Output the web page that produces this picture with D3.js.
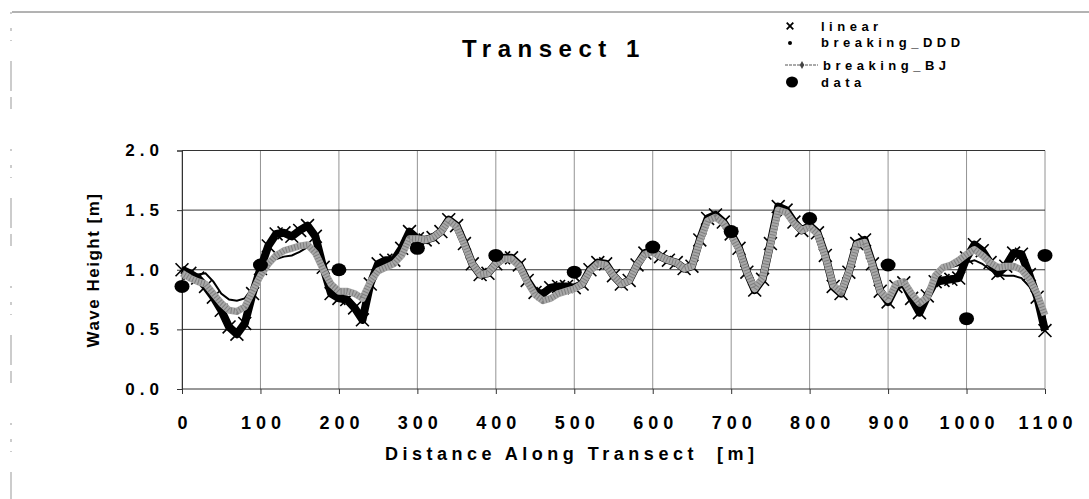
<!doctype html>
<html>
<head>
<meta charset="utf-8">
<title>Transect 1</title>
<script src="https://cdn.jsdelivr.net/npm/d3@7"></script>
<style>
  html, body { margin: 0; padding: 0; background: #fff; }
  svg { display: block; }
  text { font-family: Arial, "Liberation Sans", sans-serif; font-weight: bold; fill: #000; }
</style>
</head>
<body>
<div id="chart"></div>
<script>
// distance along transect [m]
var distance = [
  0, 10, 20, 30, 40, 50, 60, 70, 80, 90, 100,
  110, 120, 130, 140, 150, 160, 170, 180, 190, 200,
  210, 220, 230, 240, 250, 260, 270, 280, 290, 300,
  310, 320, 330, 340, 350, 360, 370, 380, 390, 400,
  410, 420, 430, 440, 450, 460, 470, 480, 490, 500,
  510, 520, 530, 540, 550, 560, 570, 580, 590, 600,
  610, 620, 630, 640, 650, 660, 670, 680, 690, 700,
  710, 720, 730, 740, 750, 760, 770, 780, 790, 800,
  810, 820, 830, 840, 850, 860, 870, 880, 890, 900,
  910, 920, 930, 940, 950, 960, 970, 980, 990, 1000,
  1010, 1020, 1030, 1040, 1050, 1060, 1070, 1080, 1090, 1100
];

var linear = [
  1.00, 0.97, 0.93, 0.86, 0.77, 0.66, 0.52, 0.46, 0.55, 0.80, 1.01,
  1.20, 1.30, 1.31, 1.28, 1.33, 1.37, 1.28, 1.02, 0.80, 0.76,
  0.75, 0.68, 0.58, 0.88, 1.05, 1.08, 1.08, 1.18, 1.32, 1.26,
  1.25, 1.27, 1.32, 1.42, 1.37, 1.22, 1.05, 0.96, 0.97, 1.05,
  1.10, 1.10, 1.04, 0.91, 0.81, 0.80, 0.85, 0.86, 0.86, 0.85,
  0.88, 1.00, 1.06, 1.05, 0.95, 0.88, 0.91, 1.04, 1.14, 1.16,
  1.11, 1.08, 1.06, 1.01, 1.03, 1.25, 1.43, 1.46, 1.40, 1.30,
  1.18, 0.98, 0.83, 0.92, 1.22, 1.53, 1.50, 1.40, 1.33, 1.37,
  1.31, 1.12, 0.86, 0.80, 0.98, 1.22, 1.25, 1.05, 0.82, 0.73,
  0.86, 0.89, 0.76, 0.64, 0.78, 0.90, 0.91, 0.92, 0.93, 1.10,
  1.21, 1.16, 1.06, 0.97, 1.03, 1.14, 1.13, 0.96, 0.77, 0.49
];

var breakingDDD = [
  1.02, 0.96, 0.96, 0.97, 0.90, 0.80, 0.75, 0.74, 0.76, 0.85, 0.96,
  1.04, 1.09, 1.11, 1.12, 1.15, 1.19, 1.12, 0.98, 0.84, 0.80,
  0.80, 0.79, 0.74, 0.90, 1.00, 1.04, 1.06, 1.13, 1.25, 1.25,
  1.25, 1.27, 1.32, 1.41, 1.36, 1.21, 1.05, 0.96, 0.97, 1.05,
  1.09, 1.09, 1.03, 0.90, 0.79, 0.74, 0.76, 0.80, 0.82, 0.84,
  0.88, 0.99, 1.05, 1.04, 0.95, 0.88, 0.91, 1.04, 1.13, 1.15,
  1.11, 1.08, 1.06, 1.01, 1.03, 1.24, 1.41, 1.44, 1.39, 1.29,
  1.17, 0.98, 0.84, 0.93, 1.21, 1.50, 1.48, 1.39, 1.33, 1.36,
  1.30, 1.11, 0.87, 0.81, 0.98, 1.21, 1.23, 1.04, 0.82, 0.75,
  0.88, 0.90, 0.80, 0.72, 0.78, 0.95, 1.00, 1.02, 1.04, 1.06,
  1.08, 1.05, 1.00, 0.96, 0.95, 0.95, 0.93, 0.86, 0.74, 0.60
];

var breakingBJ = [
  0.97, 0.93, 0.90, 0.88, 0.80, 0.72, 0.66, 0.65, 0.69, 0.82, 0.95,
  1.05, 1.12, 1.16, 1.18, 1.20, 1.21, 1.14, 1.00, 0.88, 0.82,
  0.82, 0.80, 0.76, 0.90, 0.99, 1.02, 1.05, 1.12, 1.26, 1.26,
  1.25, 1.27, 1.32, 1.41, 1.36, 1.21, 1.05, 0.96, 0.97, 1.05,
  1.09, 1.09, 1.03, 0.90, 0.79, 0.74, 0.76, 0.80, 0.82, 0.84,
  0.88, 0.99, 1.05, 1.04, 0.95, 0.88, 0.91, 1.04, 1.13, 1.15,
  1.11, 1.08, 1.06, 1.01, 1.03, 1.24, 1.41, 1.44, 1.39, 1.29,
  1.17, 0.98, 0.84, 0.93, 1.21, 1.50, 1.48, 1.39, 1.33, 1.36,
  1.30, 1.11, 0.87, 0.81, 0.98, 1.21, 1.23, 1.04, 0.82, 0.75,
  0.88, 0.90, 0.80, 0.72, 0.77, 0.95, 1.02, 1.04, 1.08, 1.13,
  1.17, 1.12, 1.06, 1.02, 1.03, 1.03, 1.00, 0.92, 0.80, 0.62
];

// measured points
var dataDistance = [0, 100, 200, 300, 400, 500, 600, 700, 800, 900, 1000, 1100];
var dataHeight = [0.86, 1.04, 1.00, 1.18, 1.12, 0.98, 1.19, 1.32, 1.43, 1.04, 0.59, 1.12];

var xTicks = [0, 100, 200, 300, 400, 500, 600, 700, 800, 900, 1000, 1100];
var yTicks = [0.0, 0.5, 1.0, 1.5, 2.0];

var W = 1089, H = 499;
var svg = d3.select("#chart").append("svg")
    .attr("width", W)
    .attr("height", H);

// scanned frame edges
svg.append("line")
    .attr("x1", 12).attr("y1", 12).attr("x2", W).attr("y2", 12)
    .attr("stroke", "#666").attr("stroke-width", 1);
svg.append("line")
    .attr("x1", 11).attr("y1", 12).attr("x2", 11).attr("y2", H)
    .attr("stroke", "#999").attr("stroke-width", 1)
    .attr("stroke-dasharray", "2,14,3,9,1,20,30,6,12,40");

var x = d3.scaleLinear().domain([0, 1100]).range([182, 1045]);
var y = d3.scaleLinear().domain([0, 2]).range([389, 150.5]);

// grid
var grid = svg.append("g");
grid.selectAll(".vgrid").data(xTicks).enter().append("line")
    .attr("class", "vgrid")
    .attr("x1", d => x(d)).attr("x2", d => x(d))
    .attr("y1", y(2)).attr("y2", y(0))
    .attr("stroke", "#777").attr("stroke-width", 0.8);
grid.selectAll(".hgrid").data(yTicks).enter().append("line")
    .attr("class", "hgrid")
    .attr("x1", x(0)).attr("x2", x(1100))
    .attr("y1", d => y(d)).attr("y2", d => y(d))
    .attr("stroke", "#333").attr("stroke-width", 1);

// axes
var xAxis = svg.append("g")
    .attr("transform", "translate(0," + y(0) + ")")
    .call(d3.axisBottom(x).tickValues(xTicks).tickSize(5).tickPadding(22).tickFormat(d3.format("d")));
xAxis.select(".domain").remove();
xAxis.selectAll("line").attr("stroke", "#333");
xAxis.selectAll("text")
    .style("font-size", "18px")
    .style("letter-spacing", "5px")
    .attr("dx", "2.5px");

var yAxis = svg.append("g")
    .attr("transform", "translate(" + x(0) + ",0)")
    .call(d3.axisLeft(y).tickValues(yTicks).tickSize(5).tickPadding(18).tickFormat(d3.format(".1f")));
yAxis.select(".domain").attr("stroke", "#333");
yAxis.selectAll("line").attr("stroke", "#333");
yAxis.selectAll("text")
    .style("font-size", "17px")
    .style("letter-spacing", "5px")
    .attr("dx", "5px");

// series
var line = d3.line()
    .x((d, i) => x(distance[i]))
    .y(d => y(d));

// linear: dense x markers make a hairy black band
svg.append("path")
    .datum(linear)
    .attr("d", line)
    .attr("fill", "none")
    .attr("stroke", "#000")
    .attr("stroke-width", 8)
    .attr("stroke-linejoin", "round");
var cross = d3.symbol().type(d3.symbolX).size(110);
svg.append("g").selectAll("path").data(linear).enter().append("path")
    .attr("d", cross)
    .attr("transform", (d, i) => "translate(" + x(distance[i]) + "," + y(d) + ")")
    .attr("fill", "none")
    .attr("stroke", "#000")
    .attr("stroke-width", 1.6);

// breaking_DDD
svg.append("path")
    .datum(breakingDDD)
    .attr("d", line)
    .attr("fill", "none")
    .attr("stroke", "#000")
    .attr("stroke-width", 2);

// breaking_BJ: thick grey band of markers
svg.append("path")
    .datum(breakingBJ)
    .attr("d", line)
    .attr("fill", "none")
    .attr("stroke", "#a8a8a8")
    .attr("stroke-width", 7)
    .attr("stroke-linejoin", "round");
svg.append("path")
    .datum(breakingBJ)
    .attr("d", line)
    .attr("fill", "none")
    .attr("stroke", "#555")
    .attr("stroke-width", 6)
    .attr("stroke-dasharray", "1,2")
    .attr("opacity", 0.5);

// data
svg.append("g").selectAll("ellipse").data(dataHeight).enter().append("ellipse")
    .attr("cx", (d, i) => x(dataDistance[i]))
    .attr("cy", d => y(d))
    .attr("rx", 7.5)
    .attr("ry", 6.5)
    .attr("fill", "#000");

// titles
svg.append("text")
    .attr("x", 462).attr("y", 57)
    .style("font-size", "24px")
    .style("letter-spacing", "6.5px")
    .text("Transect 1");

svg.append("text")
    .attr("x", 385).attr("y", 460)
    .style("font-size", "18px")
    .style("letter-spacing", "4.5px")
    .style("white-space", "pre")
    .text("Distance Along Transect  [m]");

svg.append("text")
    .attr("transform", "translate(93,270) rotate(-90)")
    .attr("text-anchor", "middle")
    .attr("dominant-baseline", "central")
    .style("font-size", "17px")
    .style("letter-spacing", "1.5px")
    .text("Wave Height [m]");

// legend
var legend = svg.append("g");
legend.append("path")
    .attr("d", d3.symbol().type(d3.symbolX).size(30))
    .attr("transform", "translate(790,26)")
    .attr("stroke", "#000").attr("stroke-width", 1.8);
legend.append("circle")
    .attr("cx", 790).attr("cy", 43).attr("r", 2)
    .attr("fill", "#000");
legend.append("line")
    .attr("x1", 785).attr("x2", 818).attr("y1", 65).attr("y2", 65)
    .attr("stroke", "#555").attr("stroke-width", 1)
    .attr("stroke-dasharray", "3,1");
legend.append("path")
    .attr("d", d3.symbol().type(d3.symbolDiamond).size(18))
    .attr("transform", "translate(802,65)")
    .attr("fill", "#444");
legend.append("ellipse")
    .attr("cx", 792).attr("cy", 82).attr("rx", 6).attr("ry", 5.5)
    .attr("fill", "#000");

var legendText = ["linear", "breaking_DDD", "breaking_BJ", "data"];
var legendY = [30.5, 47, 69.5, 86.5];
var legendX = [821, 821, 823, 821];
legend.selectAll("text").data(legendText).enter().append("text")
    .attr("x", (d, i) => legendX[i])
    .attr("y", (d, i) => legendY[i])
    .style("font-size", "13px")
    .style("letter-spacing", "4.5px")
    .text(d => d);
</script>
</body>
</html>
